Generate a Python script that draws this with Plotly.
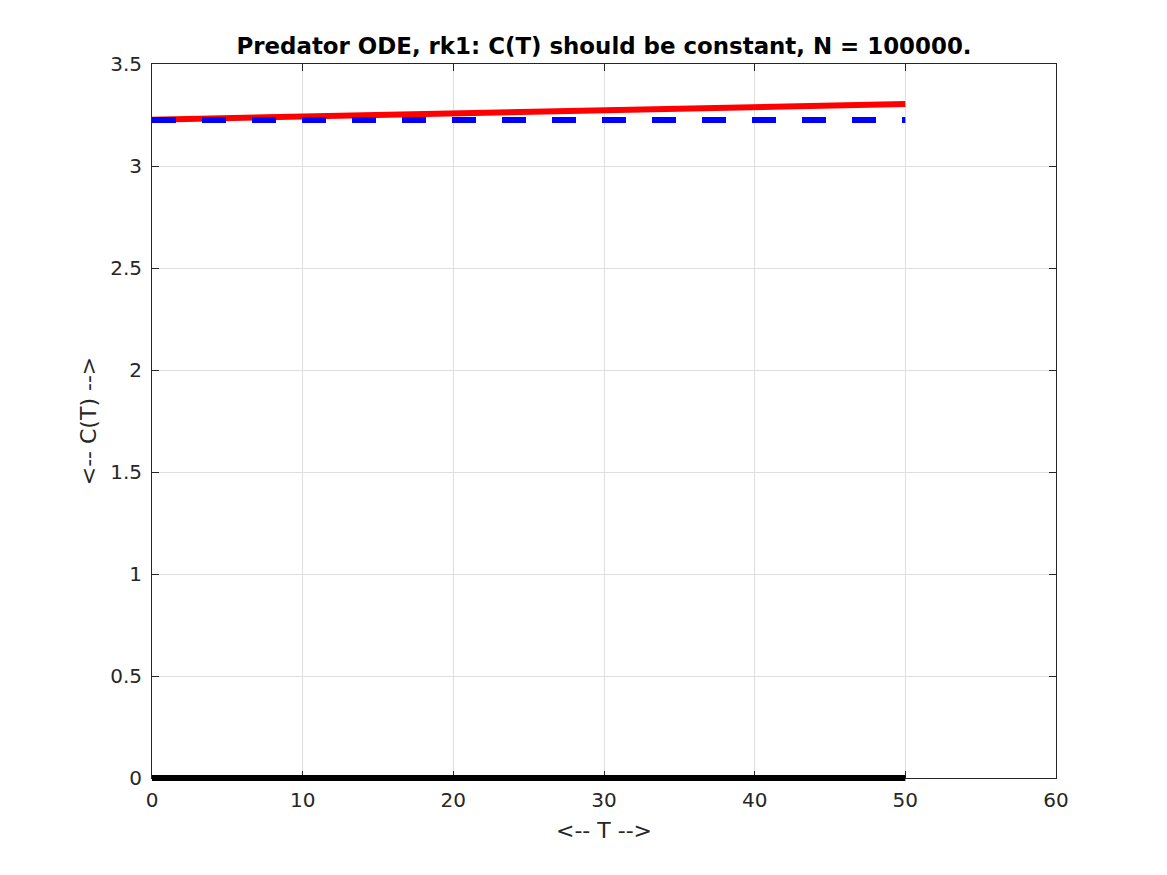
import plotly.graph_objects as go

t_red = [0, 10, 20, 30, 40, 50]
c_red = [3.227, 3.241, 3.257, 3.272, 3.288, 3.304]
t_blue = [0, 50]
c_blue = [3.2255, 3.2255]
t_black = [0, 50]
c_black = [0, 0]

W, H = 1159, 867
L, R, T = 144, 111, 56
PLOT_H = 714          # main axes height in px
EXT = 8               # extra px below for the unclipped zero line
B = H - T - PLOT_H - EXT
px_per_unit = PLOT_H / 3.5

fig = go.Figure()
fig.add_trace(go.Scatter(x=t_red, y=c_red, mode="lines",
                         line=dict(color="#ff0000", width=6), xaxis="x", yaxis="y"))
fig.add_trace(go.Scatter(x=t_blue, y=c_blue, mode="lines",
                         line=dict(color="#0000ff", width=6, dash="24px,26px"),
                         xaxis="x", yaxis="y"))
fig.add_trace(go.Scatter(x=t_black, y=c_black, mode="lines",
                         line=dict(color="#000000", width=6), xaxis="x2", yaxis="y2"))

axis_common = dict(showline=True, linecolor="#262626", linewidth=1, mirror="ticks",
                   ticks="inside", ticklen=7, tickcolor="#262626",
                   showgrid=True, gridcolor="#dfdfdf", gridwidth=1,
                   zeroline=False, tickfont=dict(size=20, color="#262626"))

fig.update_layout(
    width=W, height=H,
    margin=dict(l=L, r=R, t=T, b=B),
    paper_bgcolor="white", plot_bgcolor="rgba(0,0,0,0)",
    showlegend=False,
    font=dict(family="DejaVu Sans", color="#262626"),
    title=dict(text="<b>Predator ODE, rk1: C(T) should be constant, N = 100000.</b>",
               x=0.5, xanchor="center", xref="paper", y=1, yref="paper",
               yanchor="bottom", pad=dict(b=10),
               font=dict(size=22.9, color="black")),
    xaxis=dict(range=[0, 60], tickvals=[0, 10, 20, 30, 40, 50, 60], anchor="y",
               ticklabelstandoff=4,
               title=dict(text="<-- T -->", font=dict(size=22, color="#262626"), standoff=11),
               **axis_common),
    yaxis=dict(range=[0, 3.5], tickvals=[0, 0.5, 1, 1.5, 2, 2.5, 3, 3.5],
               ticktext=["0", "0.5", "1", "1.5", "2", "2.5", "3", "3.5"],
               domain=[EXT / (PLOT_H + EXT), 1], anchor="x",
               ticklabelstandoff=5,
               title=dict(text="<-- C(T) -->", font=dict(size=22, color="#262626"), standoff=7),
               **axis_common),
    xaxis2=dict(range=[0, 60], anchor="y2", visible=False, domain=[0, 1]),
    yaxis2=dict(range=[-EXT / px_per_unit, 3.5], anchor="x2", visible=False, domain=[0, 1]),
)
fig.write_html("out.html")
